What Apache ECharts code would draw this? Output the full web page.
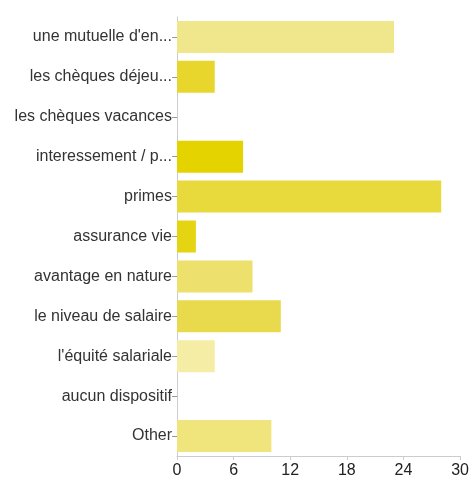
<!DOCTYPE html>
<html><head><meta charset="utf-8">
<script src="https://cdn.jsdelivr.net/npm/echarts@6/dist/echarts.min.js"></script>
<style>html,body{margin:0;padding:0;background:#fff}#c{width:472px;height:479px}</style>
</head><body><div id="c"></div>
<script>
const titleText = "Selon vous, quels dispositifs de votre entreprise sont les plus avantageux ?";
const categories = ["une mutuelle d'en...", "les chèques déjeu...", "les chèques vacances", "interessement / p...", "primes", "assurance vie", "avantage en nature", "le niveau de salaire", "l'équité salariale", "aucun dispositif", "Other"];
const values = [23, 4, 0, 7, 28, 2, 8, 11, 4, 0, 10];
const colors = ["#F0E68C", "#E8D62C", "#E8D62C", "#E5D300", "#E8DA3C", "#E5D412", "#EEE06C", "#E8DA4C", "#F5ECA6", "#E8D62C", "#F0E47C"];
const xTicks = [0, 6, 12, 18, 24, 30];

const chart = echarts.init(document.getElementById('c'), null, {renderer: 'canvas'});
chart.setOption({
  animation: false,
  title: {text: titleText, left: 'center', top: -19,
    textStyle: {fontFamily: 'Liberation Sans, Arial', fontSize: 14, fontWeight: 'bold', color: '#000'}},
  grid: {left: 177, right: 9, top: 17, bottom: 21, containLabel: false},
  xAxis: {type: 'value', min: xTicks[0], max: xTicks[xTicks.length - 1], interval: 6,
    axisLine: {show: true, lineStyle: {color: '#ccc', width: 1}},
    axisTick: {show: true, length: 4, lineStyle: {color: '#ccc'}},
    splitLine: {show: false},
    axisLabel: {color: '#222', fontSize: 16, fontFamily: 'Liberation Sans, Arial', margin: 7}},
  yAxis: {type: 'category', data: categories, inverse: true,
    axisLine: {show: true, lineStyle: {color: '#ccc', width: 1}},
    axisTick: {show: true, length: 5, alignWithLabel: true, lineStyle: {color: '#999'}},
    axisLabel: {color: '#333', fontSize: 16, fontFamily: 'Liberation Sans, Arial', margin: 5}},
  series: [{type: 'bar', barWidth: 32,
    data: values.map((v, i) => ({value: v, itemStyle: {color: colors[i]}}))}]
});
</script></body></html>
